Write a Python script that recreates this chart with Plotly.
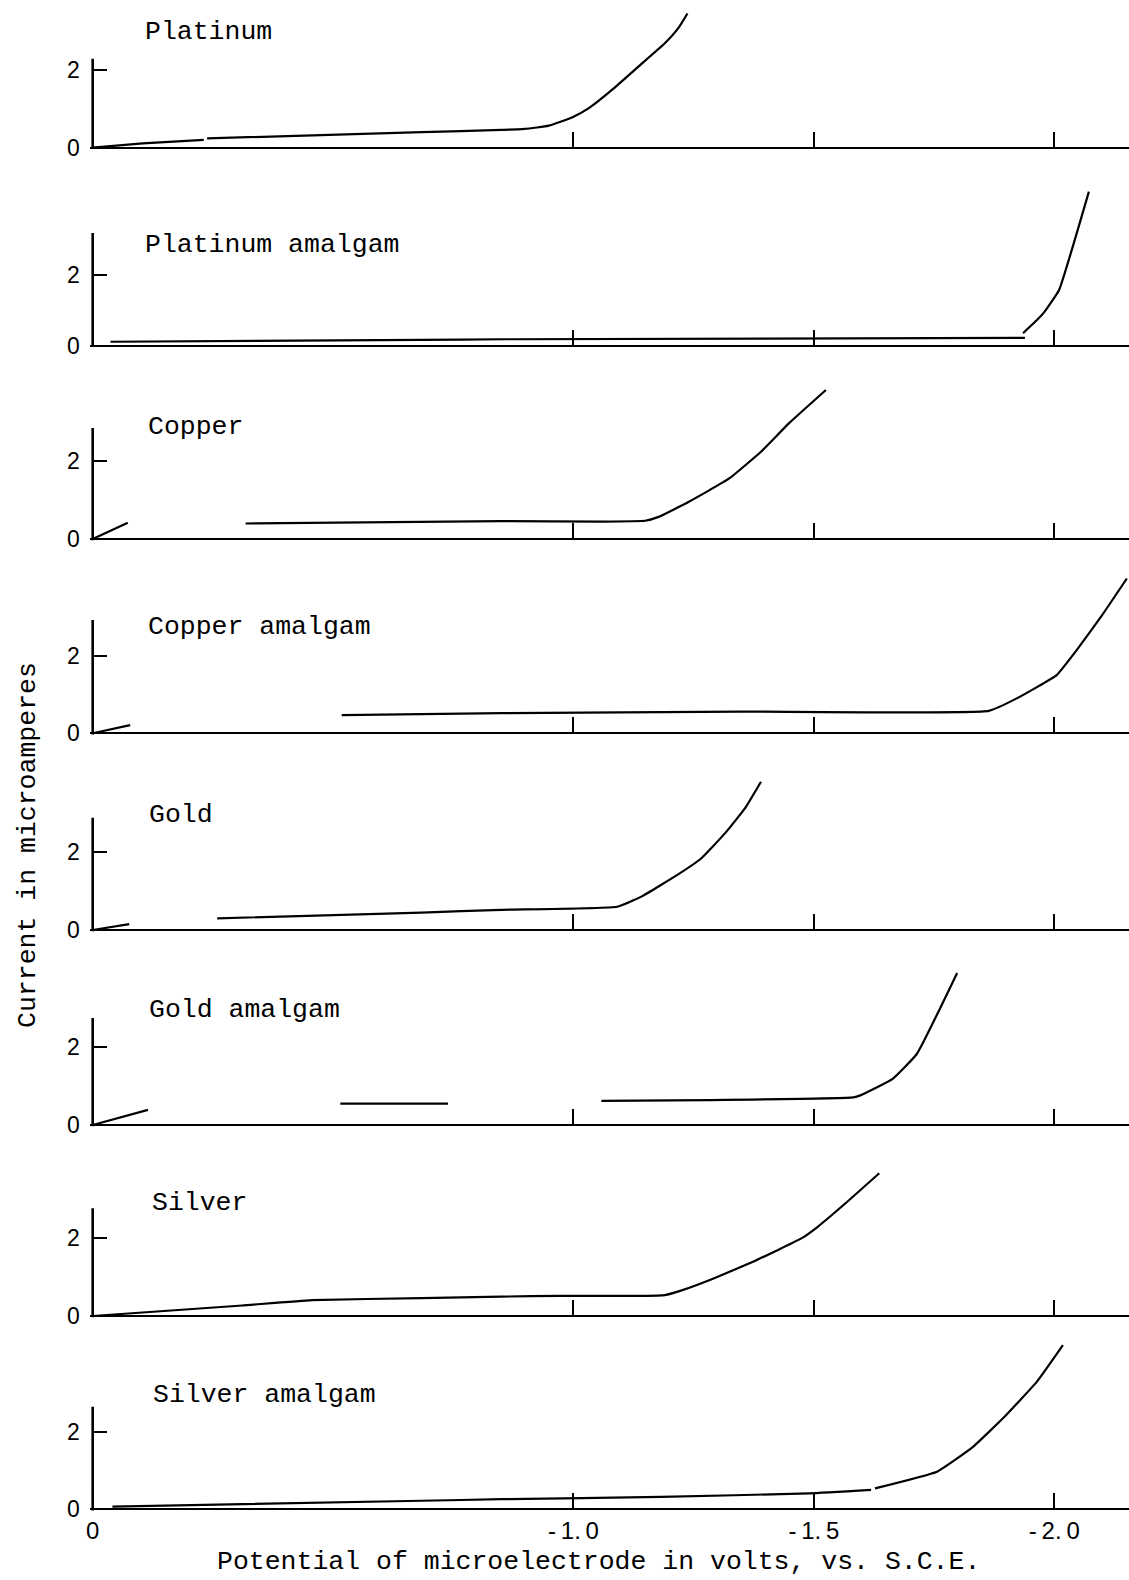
import plotly.graph_objects as go

W, H = 1129, 1580

panel_names = ["Platinum", "Platinum amalgam", "Copper", "Copper amalgam",
               "Gold", "Gold amalgam", "Silver", "Silver amalgam"]

# Potential of the microelectrode (V vs. S.C.E.) and current (microamperes).
# None marks a lift of the recorder pen.
platinum_v = [0, -0.104, -0.231, None, -0.238, -0.684, -0.850, -0.893, -0.924,
              -0.949, -0.997, -1.032, -1.080, -1.135, -1.190, -1.218, -1.237]
platinum_i = [0, 0.11, 0.20, None, 0.24, 0.40, 0.46, 0.48, 0.52,
              0.57, 0.78, 1.02, 1.49, 2.09, 2.69, 3.08, 3.46]

pt_amalgam_v = [-0.037, -0.684, -0.850, -1.939, None,
                -1.935, -1.964, -1.980, -2.010, -2.072]
pt_amalgam_i = [0.12, 0.17, 0.19, 0.23, None,
                0.36, 0.73, 0.97, 1.58, 4.35]

copper_v = [0, -0.073, None, -0.318, -0.850, -1.059, -1.149, -1.177, -1.240,
            -1.324, -1.390, -1.448, -1.525]
copper_i = [0, 0.42, None, 0.40, 0.46, 0.45, 0.47, 0.57, 0.96,
            1.56, 2.25, 2.98, 3.84]

cu_amalgam_v = [0, -0.078, None, -0.518, -0.850, -1.349, -1.864, -1.922,
                -2.005, -2.047, -2.097, -2.151]
cu_amalgam_i = [0, 0.21, None, 0.47, 0.52, 0.56, 0.58, 0.90,
                1.50, 2.15, 3.00, 3.99]

gold_v = [0, -0.076, None, -0.259, -0.684, -0.850, -1.091, -1.141, -1.216,
          -1.266, -1.315, -1.357, -1.390]
gold_i = [0, 0.15, None, 0.30, 0.45, 0.52, 0.60, 0.86, 1.42,
          1.85, 2.49, 3.14, 3.82]

au_amalgam_v = [0, -0.115, None, -0.515, -0.739, None, -1.058, -1.282, -1.582,
                -1.598, -1.664, -1.714, -1.798]
au_amalgam_i = [0, 0.39, None, 0.55, 0.55, None, 0.62, 0.64, 0.71,
                0.77, 1.19, 1.83, 3.92]

silver_v = [0, -0.311, -0.456, -0.684, -0.850, -0.975, -1.142, -1.190, -1.225,
            -1.294, -1.377, -1.474, -1.508, -1.570, -1.636]
silver_i = [0, 0.27, 0.41, 0.46, 0.50, 0.52, 0.52, 0.54, 0.66,
            0.98, 1.42, 2.00, 2.30, 2.95, 3.68]

ag_amalgam_v = [-0.041, -0.684, -0.850, -1.182, -1.490, -1.619, None,
                -1.627, -1.756, -1.831, -1.897, -1.964, -2.018]
ag_amalgam_i = [0.07, 0.22, 0.26, 0.32, 0.41, 0.50, None,
                0.54, 0.97, 1.61, 2.39, 3.29, 4.23]

series = [(platinum_v, platinum_i), (pt_amalgam_v, pt_amalgam_i),
          (copper_v, copper_i), (cu_amalgam_v, cu_amalgam_i),
          (gold_v, gold_i), (au_amalgam_v, au_amalgam_i),
          (silver_v, silver_i), (ag_amalgam_v, ag_amalgam_i)]

x_marks = [-1.0, -1.5, -2.0]
x_ticks = [0, -1.0, -1.5, -2.0]
x_tick_text = ["0", "-\u20091.\u20090", "-\u20091.\u20095", "-\u20092.\u20090"]
y_ticks = [0, 2]
y_tick_text = ["0", "2"]

# ---- page geometry (pixels) ----
X0_PX, LEFT_PX, PX_PER_V = 89, 86, 482.5
x_range = [(X0_PX - LEFT_PX) / PX_PER_V, -(W - X0_PX) / PX_PER_V]
x_domain = [LEFT_PX / W, 1.0]

baseline_px = [147.7, 346, 539, 733.3, 930, 1125, 1316, 1509.3]
px_per_ua = [38.8, 35.5, 38.8, 38.8, 38.8, 38.8, 38.8, 38.8]
axis_top_ua = [2.29, 3.18, 2.86, 2.92, 2.89, 2.76, 2.78, 2.64]
title_px = [(139, 32), (139, 245), (142.5, 427), (143, 627),
            (143.5, 815), (144, 1010), (147, 1203), (147.5, 1395)]

TYPE_FONT = dict(family="Liberation Mono, DejaVu Sans Mono, monospace",
                 size=26.5, color="black")
NUM_FONT = dict(family="Liberation Sans, DejaVu Sans, sans-serif",
                size=23, color="black")
XNUM_FONT = dict(family="Liberation Sans, DejaVu Sans, sans-serif",
                 size=24, color="black")

fig = go.Figure()
layout = {}
shapes = []
annotations = []

for k, (v, cur) in enumerate(series):
    n = k + 1
    sx = "" if n == 1 else str(n)
    base, s = baseline_px[k], px_per_ua[k]
    lo = -0.5
    hi = min(4.6, base / s)
    dom = [(H - (base - lo * s)) / H, min(1.0, (H - (base - hi * s)) / H)]

    fig.add_trace(go.Scatter(
        x=v, y=cur, mode="lines",
        line=dict(color="black", width=2.2, shape="spline", smoothing=0.35),
        xaxis="x" + sx, yaxis="y" + sx,
        showlegend=False, hoverinfo="skip", connectgaps=False))

    last = (n == len(series))
    layout["xaxis" + sx] = dict(
        domain=x_domain, range=x_range, anchor="free",
        position=(H - base) / H,
        showline=True, linecolor="black", linewidth=2,
        ticks="inside", ticklen=15, tickwidth=2, tickcolor="black",
        tickvals=x_ticks if last else x_marks,
        ticktext=x_tick_text if last else None,
        showticklabels=last, tickfont=XNUM_FONT, ticklabelstandoff=0,
        showgrid=False, zeroline=False, fixedrange=True)
    layout["yaxis" + sx] = dict(
        domain=dom, range=[lo, hi], anchor="free", position=X0_PX / W,
        side="left", showline=False,
        ticks="inside", ticklen=13, tickwidth=2, tickcolor="black",
        tickvals=y_ticks, ticktext=y_tick_text, tickfont=NUM_FONT,
        ticklabelstandoff=13,
        showgrid=False, zeroline=False, fixedrange=True)

    # vertical current axis of the panel
    shapes.append(dict(type="line", xref="x" + sx, yref="y" + sx,
                       x0=0, x1=0, y0=-0.03, y1=axis_top_ua[k],
                       line=dict(color="black", width=2.6)))

    tx, ty = title_px[k]
    annotations.append(dict(text=panel_names[k], xref="paper", yref="paper",
                            x=tx / W, y=(H - ty) / H, xanchor="left",
                            yanchor="middle", showarrow=False, font=TYPE_FONT))

annotations.append(dict(text="Current in microamperes", xref="paper",
                        yref="paper", x=24 / W, y=(H - 845) / H,
                        xanchor="center", yanchor="middle", textangle=-90,
                        showarrow=False, font=TYPE_FONT))
annotations.append(dict(text="Potential of microelectrode in volts, vs. S.C.E.",
                        xref="paper", yref="paper", x=597 / W,
                        y=(H - 1562) / H, xanchor="center", yanchor="middle",
                        showarrow=False, font=TYPE_FONT))

fig.update_layout(
    width=W, height=H,
    margin=dict(l=0, r=0, t=0, b=0),
    paper_bgcolor="white", plot_bgcolor="rgba(0,0,0,0)",
    shapes=shapes, annotations=annotations, showlegend=False,
    **layout)

fig.write_html("out.html")
